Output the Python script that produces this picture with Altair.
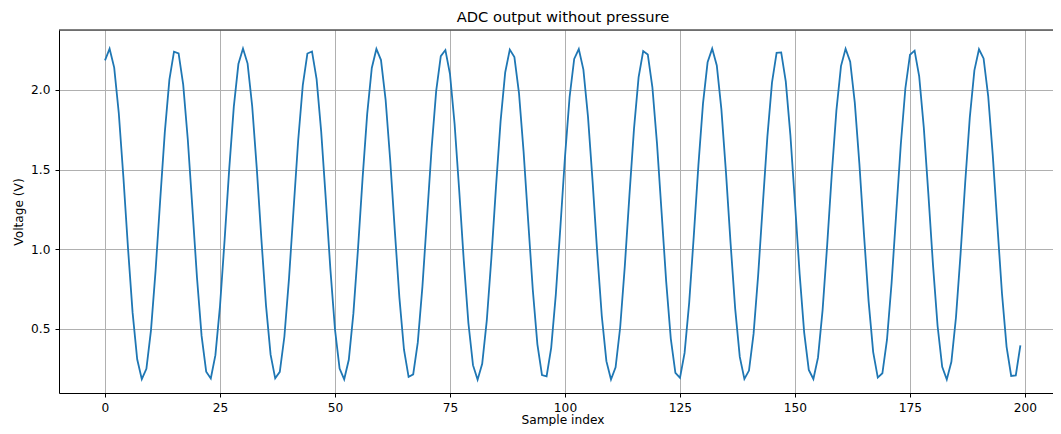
import altair as alt
import pandas as pd

# Voltage readings, in blocks of 50 samples
voltage_0_49 = [
    2.186, 2.259, 2.141, 1.854, 1.452, 1.007, 0.601, 0.308, 0.183, 0.248,
    0.491, 0.867, 1.309, 1.734, 2.065, 2.241, 2.230, 2.034, 1.689, 1.258,
    0.820, 0.455, 0.230, 0.187, 0.334, 0.642, 1.057, 1.501, 1.894, 2.163,
    2.260, 2.166, 1.898, 1.506, 1.062, 0.647, 0.337, 0.188, 0.229, 0.451,
    0.815, 1.252, 1.684, 2.030, 2.229, 2.242, 2.068, 1.738, 1.314, 0.873,
]
voltage_50_99 = [
    0.495, 0.250, 0.182, 0.305, 0.596, 1.001, 1.446, 1.850, 2.138, 2.258,
    2.188, 1.940, 1.560, 1.118, 0.695, 0.368, 0.197, 0.213, 0.414, 0.763,
    1.196, 1.632, 1.994, 2.213, 2.251, 2.100, 1.787, 1.370, 0.926, 0.536,
    0.271, 0.180, 0.280, 0.552, 0.946, 1.391, 1.804, 2.110, 2.254, 2.207,
    1.980, 1.613, 1.175, 0.745, 0.402, 0.209, 0.201, 0.380, 0.713, 1.139,
]
voltage_100_149 = [
    1.580, 1.955, 2.195, 2.257, 2.128, 1.833, 1.426, 0.981, 0.580, 0.296,
    0.181, 0.257, 0.509, 0.892, 1.335, 1.756, 2.079, 2.245, 2.223, 2.017,
    1.665, 1.231, 0.796, 0.438, 0.223, 0.191, 0.348, 0.664, 1.083, 1.526,
    1.914, 2.174, 2.260, 2.154, 1.878, 1.481, 1.036, 0.625, 0.323, 0.185,
    0.237, 0.469, 0.839, 1.278, 1.707, 2.046, 2.234, 2.236, 2.052, 1.716,
]
voltage_150_199 = [
    1.288, 0.848, 0.476, 0.241, 0.184, 0.318, 0.617, 1.027, 1.472, 1.870,
    2.150, 2.259, 2.178, 1.921, 1.536, 1.092, 0.673, 0.353, 0.193, 0.220,
    0.431, 0.787, 1.222, 1.656, 2.011, 2.221, 2.247, 2.085, 1.765, 1.344,
    0.901, 0.517, 0.261, 0.181, 0.292, 0.572, 0.972, 1.417, 1.826, 2.123,
    2.256, 2.198, 1.962, 1.589, 1.149, 0.721, 0.386, 0.203, 0.206, 0.396,
]

x_tick_values = [0, 25, 50, 75, 100, 125, 150, 175, 200]
y_tick_values = [0.5, 1.0, 1.5, 2.0]

voltage = voltage_0_49 + voltage_50_99 + voltage_100_149 + voltage_150_199
df = pd.DataFrame({"idx": list(range(len(voltage))), "v": voltage})

W = 994
H = 363
FONT = "DejaVu Sans"
GRID = "#b0b0b0"
LABEL_SIZE = 12.2

line = alt.Chart(df).mark_line(color="#1f77b4", strokeWidth=1.8, clip=True).encode(
    x=alt.X(
        "idx:Q",
        scale=alt.Scale(domain=[-10, 206.09], nice=False, zero=False),
        axis=alt.Axis(
            values=x_tick_values, title="Sample index", grid=True,
            gridColor=GRID, gridWidth=1, gridOpacity=1,
            domainColor="black", domainWidth=1,
            tickColor="black", tickWidth=1, tickSize=4,
            labelFont=FONT, labelFontSize=LABEL_SIZE, labelColor="black", labelPadding=4,
            titleFont=FONT, titleFontSize=LABEL_SIZE, titleFontWeight="normal", titleColor="black",
            titleX=503.5, titleY=26.5, titleBaseline="middle", titleAlign="center",
        ),
    ),
    y=alt.Y(
        "v:Q",
        scale=alt.Scale(domain=[0.0961, 2.3769], nice=False, zero=False),
        axis=alt.Axis(
            values=y_tick_values, format=".1f", title="Voltage (V)", grid=True,
            gridColor=GRID, gridWidth=1, gridOpacity=1,
            domainColor="black", domainWidth=1,
            tickColor="black", tickWidth=1, tickSize=4,
            labelFont=FONT, labelFontSize=LABEL_SIZE, labelColor="black", labelPadding=5,
            titleFont=FONT, titleFontSize=LABEL_SIZE, titleFontWeight="normal", titleColor="black",
            titleX=-41, titleY=H / 2, titleAngle=270, titleBaseline="middle", titleAlign="center",
        ),
    ),
)

top_border = alt.Chart(pd.DataFrame({"k": [0]})).mark_rule(color="black", strokeWidth=1).encode(
    x=alt.value(0), x2=alt.value(W), y=alt.value(0)
)

chart = alt.layer(line, top_border).properties(
    width=W,
    height=H,
    title=alt.TitleParams(
        "ADC output without pressure", font=FONT, fontSize=14.7, fontWeight="normal",
        color="black", anchor="middle", dx=7, offset=5,
    ),
    padding={"left": 51, "top": 22, "right": 0, "bottom": 33},
    autosize=alt.AutoSizeParams(type="none"),
).configure_view(stroke=None).configure(background="white")

chart.save("out.html", embed_options={"renderer": "svg", "actions": False})
